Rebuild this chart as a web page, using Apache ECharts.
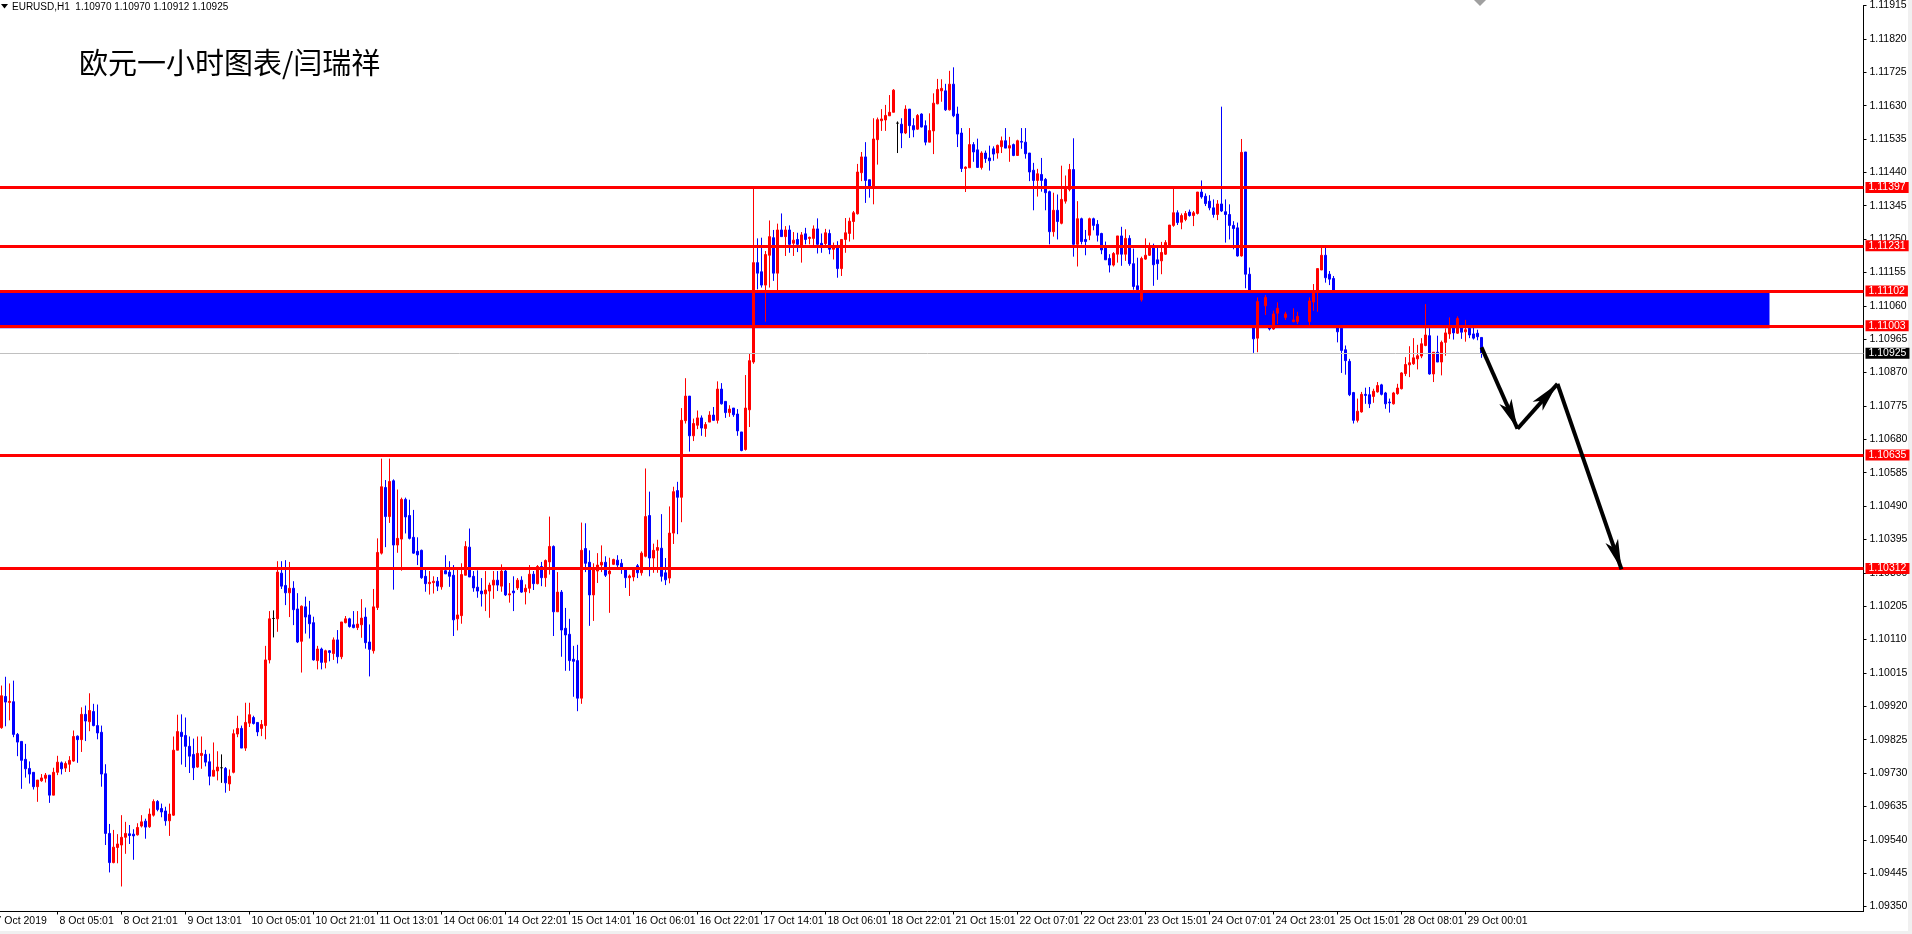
<!DOCTYPE html>
<html><head><meta charset="utf-8">
<script src="https://cdn.jsdelivr.net/npm/echarts@6/dist/echarts.min.js"></script>
<style>html,body{margin:0;padding:0;background:#fff;overflow:hidden;width:1912px;height:934px;position:relative}
#c{position:absolute;left:-10px;top:0;width:1922px;height:934px}</style>
</head><body><div id="c"></div>
<script>
// [open, close, low, high] per hourly bar
const barsA = [
[1.09859,1.09950,1.09856,1.09979],[1.09948,1.09932,1.09863,1.10004],[1.09931,1.09934,1.09880,1.09985],[1.09933,1.09840,1.09832,1.09993],
[1.09840,1.09818,1.09778,1.09844],[1.09820,1.09766,1.09685,1.09820],[1.09769,1.09742,1.09717,1.09813],[1.09743,1.09727,1.09700,1.09763],
[1.09732,1.09691,1.09683,1.09732],[1.09691,1.09710,1.09648,1.09710],[1.09708,1.09716,1.09705,1.09727],[1.09715,1.09724,1.09703,1.09730],
[1.09724,1.09667,1.09645,1.09724],[1.09667,1.09732,1.09667,1.09745],[1.09732,1.09761,1.09724,1.09779],[1.09759,1.09742,1.09726,1.09763],
[1.09744,1.09757,1.09733,1.09763],[1.09755,1.09766,1.09733,1.09778],[1.09764,1.09834,1.09762,1.09851],[1.09835,1.09825,1.09759,1.09837],
[1.09825,1.09897,1.09790,1.09917],[1.09897,1.09878,1.09821,1.09922],[1.09876,1.09908,1.09849,1.09957],[1.09905,1.09865,1.09863,1.09927],
[1.09865,1.09844,1.09826,1.09925],[1.09846,1.09727,1.09691,1.09865],[1.09728,1.09558,1.09525,1.09755],[1.09558,1.09475,1.09447,1.09585],
[1.09475,1.09519,1.09473,1.09568],[1.09518,1.09528,1.09473,1.09556],[1.09525,1.09547,1.09407,1.09610],[1.09547,1.09558,1.09500,1.09591],
[1.09557,1.09552,1.09528,1.09582],[1.09556,1.09551,1.09483,1.09570],[1.09554,1.09575,1.09552,1.09587],[1.09579,1.09591,1.09575,1.09610],
[1.09593,1.09576,1.09543,1.09600],[1.09577,1.09613,1.09574,1.09629],[1.09610,1.09649,1.09606,1.09655],[1.09649,1.09626,1.09621,1.09653],
[1.09629,1.09619,1.09604,1.09643],[1.09622,1.09594,1.09580,1.09634],[1.09594,1.09613,1.09551,1.09643],[1.09610,1.09795,1.09608,1.09834],
[1.09795,1.09848,1.09795,1.09896],[1.09846,1.09834,1.09754,1.09897],[1.09837,1.09806,1.09747,1.09888],[1.09806,1.09778,1.09730,1.09834],
[1.09783,1.09745,1.09710,1.09828],[1.09747,1.09786,1.09745,1.09834],[1.09780,1.09786,1.09742,1.09834],[1.09783,1.09761,1.09749,1.09796],
[1.09762,1.09721,1.09695,1.09785]];
const barsB = [
[1.09721,1.09738,1.09721,1.09817],[1.09736,1.09747,1.09709,1.09792],[1.09745,1.09745,1.09702,1.09783],[1.09743,1.09702,1.09674,1.09747],
[1.09699,1.09721,1.09679,1.09740],[1.09732,1.09842,1.09729,1.09854],[1.09841,1.09857,1.09832,1.09893],[1.09857,1.09801,1.09801,1.09865],
[1.09801,1.09874,1.09793,1.09930],[1.09872,1.09896,1.09861,1.09930],[1.09888,1.09871,1.09868,1.09893],[1.09874,1.09847,1.09835,1.09874],
[1.09857,1.09868,1.09835,1.09881],[1.09865,1.10052,1.09826,1.10092],[1.10052,1.10169,1.10042,1.10191],[1.10170,1.10170,1.10116,1.10193],
[1.10169,1.10302,1.10132,1.10333],[1.10299,1.10262,1.10254,1.10333],[1.10264,1.10243,1.10208,1.10336],[1.10243,1.10256,1.10174,1.10331],
[1.10256,1.10195,1.10151,1.10276],[1.10197,1.10103,1.10100,1.10242],[1.10105,1.10205,1.10016,1.10207],[1.10203,1.10174,1.10127,1.10232],
[1.10180,1.10155,1.10113,1.10220],[1.10158,1.10052,1.10050,1.10175],[1.10050,1.10083,1.10025,1.10092],[1.10083,1.10045,1.10025,1.10087],
[1.10045,1.10078,1.10028,1.10081],[1.10078,1.10073,1.10048,1.10080],[1.10070,1.10109,1.10052,1.10116],[1.10109,1.10061,1.10042,1.10137],
[1.10061,1.10160,1.10054,1.10160],[1.10158,1.10169,1.10156,1.10177],[1.10169,1.10147,1.10144,1.10172],[1.10152,1.10144,1.10142,1.10191],
[1.10144,1.10154,1.10137,1.10191],[1.10152,1.10171,1.10115,1.10225],[1.10174,1.10101,1.10084,1.10201],[1.10103,1.10082,1.10005,1.10153],
[1.10078,1.10203,1.10070,1.10254],[1.10201,1.10358,1.10194,1.10398],[1.10356,1.10545,1.10352,1.10625],[1.10543,1.10460,1.10373,1.10564],
[1.10460,1.10560,1.10442,1.10625],[1.10562,1.10379,1.10252,1.10566],[1.10379,1.10398,1.10357,1.10537],[1.10396,1.10509,1.10306,1.10514],
[1.10509,1.10459,1.10412,1.10514],[1.10463,1.10398,1.10395,1.10508],[1.10401,1.10356,1.10354,1.10479],[1.10361,1.10351,1.10322,1.10401],
[1.10364,1.10286,1.10283,1.10366]];
const barsC = [
[1.10290,1.10269,1.10246,1.10314],[1.10269,1.10273,1.10238,1.10305],[1.10272,1.10276,1.10241,1.10290],[1.10276,1.10262,1.10248,1.10288],
[1.10260,1.10307,1.10252,1.10309],[1.10306,1.10297,1.10297,1.10350],[1.10302,1.10290,1.10260,1.10333],[1.10293,1.10166,1.10120,1.10322],
[1.10169,1.10180,1.10136,1.10312],[1.10178,1.10295,1.10155,1.10327],[1.10293,1.10375,1.10293,1.10390],[1.10373,1.10288,1.10288,1.10426],
[1.10290,1.10257,1.10246,1.10305],[1.10259,1.10248,1.10229,1.10307],[1.10248,1.10240,1.10204,1.10285],[1.10240,1.10251,1.10191,1.10305],
[1.10248,1.10265,1.10172,1.10272],[1.10265,1.10279,1.10226,1.10305],[1.10279,1.10265,1.10248,1.10305],[1.10262,1.10305,1.10246,1.10324],
[1.10305,1.10237,1.10234,1.10309],[1.10237,1.10240,1.10215,1.10271],[1.10248,1.10243,1.10191,1.10290],[1.10257,1.10279,1.10251,1.10285],
[1.10279,1.10245,1.10243,1.10290],[1.10246,1.10256,1.10210,1.10267],[1.10256,1.10296,1.10242,1.10322],[1.10296,1.10269,1.10251,1.10305],
[1.10269,1.10318,1.10267,1.10322],[1.10318,1.10286,1.10262,1.10331],[1.10286,1.10335,1.10260,1.10338],[1.10331,1.10375,1.10295,1.10460],
[1.10375,1.10189,1.10120,1.10378],[1.10189,1.10245,1.10189,1.10302],[1.10245,1.10137,1.10061,1.10251],[1.10142,1.10123,1.10021,1.10200],
[1.10125,1.10050,1.10021,1.10169],[1.10054,1.10048,1.09947,1.10092],[1.10050,1.09943,1.09906,1.10095],[1.09943,1.10364,1.09927,1.10443],
[1.10369,1.10327,1.10302,1.10441],[1.10330,1.10237,1.10149,1.10364],[1.10237,1.10313,1.10163,1.10327],[1.10305,1.10322,1.10271,1.10356],
[1.10322,1.10330,1.10302,1.10378],[1.10330,1.10293,1.10288,1.10347],[1.10297,1.10305,1.10186,1.10343],[1.10324,1.10338,1.10322,1.10340],
[1.10336,1.10322,1.10316,1.10350],[1.10327,1.10314,1.10297,1.10339],[1.10314,1.10286,1.10257,1.10316],[1.10286,1.10291,1.10234,1.10295],
[1.10288,1.10313,1.10276,1.10316]];
const barsD = [
[1.10320,1.10300,1.10285,1.10325],[1.10300,1.10356,1.10292,1.10361],[1.10347,1.10460,1.10344,1.10597],[1.10463,1.10342,1.10290,1.10531],
[1.10342,1.10364,1.10300,1.10383],[1.10364,1.10372,1.10300,1.10394],[1.10370,1.10290,1.10275,1.10467],[1.10300,1.10280,1.10265,1.10342],
[1.10285,1.10413,1.10270,1.10489],[1.10413,1.10531,1.10382,1.10545],[1.10534,1.10515,1.10410,1.10559],[1.10515,1.10734,1.10444,1.10769],
[1.10733,1.10803,1.10725,1.10854],[1.10803,1.10690,1.10645,1.10803],[1.10690,1.10725,1.10675,1.10739],[1.10720,1.10741,1.10709,1.10762],
[1.10741,1.10712,1.10690,1.10748],[1.10711,1.10722,1.10687,1.10729],[1.10729,1.10749,1.10729,1.10760],[1.10749,1.10734,1.10734,1.10772],
[1.10734,1.10823,1.10725,1.10845],[1.10823,1.10781,1.10779,1.10840],[1.10788,1.10756,1.10741,1.10788],[1.10756,1.10766,1.10744,1.10777],
[1.10769,1.10750,1.10744,1.10769],[1.10752,1.10704,1.10690,1.10766],[1.10701,1.10648,1.10646,1.10701],[1.10651,1.10769,1.10648,1.10863],
[1.10764,1.10904,1.10715,1.10925],[1.10900,1.11183,1.10895,1.11396],[1.11183,1.11153,1.11107,1.11252],[1.11157,1.11119,1.11112,1.11254],
[1.11119,1.11206,1.11015,1.11216],[1.11204,1.11257,1.11112,1.11303],[1.11254,1.11153,1.11131,1.11276],[1.11153,1.11276,1.11105,1.11294],
[1.11276,1.11257,1.11257,1.11323],[1.11257,1.11276,1.11202,1.11287],[1.11276,1.11235,1.11211,1.11289],[1.11238,1.11247,1.11202,1.11270],
[1.11249,1.11235,1.11213,1.11268],[1.11232,1.11262,1.11183,1.11270],[1.11265,1.11249,1.11235,1.11282],[1.11252,1.11255,1.11235,1.11257],
[1.11252,1.11279,1.11232,1.11289],[1.11279,1.11235,1.11209,1.11309],[1.11238,1.11232,1.11211,1.11266],[1.11237,1.11268,1.11227,1.11279],
[1.11266,1.11221,1.11207,1.11277],[1.11221,1.11228,1.11192,1.11240],[1.11228,1.11166,1.11140,1.11244],[1.11166,1.11249,1.11145,1.11249],
[1.11249,1.11268,1.11211,1.11310]];
const barsE = [
[1.11266,1.11301,1.11243,1.11311],[1.11300,1.11325,1.11249,1.11330],[1.11322,1.11441,1.11320,1.11464],[1.11439,1.11484,1.11415,1.11498],
[1.11484,1.11417,1.11353,1.11526],[1.11419,1.11401,1.11368,1.11419],[1.11401,1.11535,1.11349,1.11594],[1.11533,1.11590,1.11462,1.11596],
[1.11587,1.11592,1.11558,1.11620],[1.11589,1.11602,1.11558,1.11632],[1.11601,1.11611,1.11601,1.11660],[1.11611,1.11674,1.11611,1.11677],
[1.11580,1.11580,1.11495,1.11585],[1.11577,1.11552,1.11509,1.11594],[1.11552,1.11620,1.11549,1.11631],[1.11620,1.11573,1.11538,1.11620],
[1.11573,1.11561,1.11540,1.11594],[1.11563,1.11602,1.11561,1.11606],[1.11606,1.11569,1.11568,1.11608],[1.11573,1.11526,1.11517,1.11588],
[1.11526,1.11559,1.11526,1.11608],[1.11558,1.11637,1.11492,1.11665],[1.11635,1.11676,1.11634,1.11706],[1.11672,1.11679,1.11641,1.11705],
[1.11672,1.11618,1.11615,1.11692],[1.11618,1.11691,1.11616,1.11729],[1.11691,1.11601,1.11597,1.11739],[1.11606,1.11549,1.11512,1.11627],
[1.11552,1.11451,1.11441,1.11566],[1.11451,1.11455,1.11384,1.11457],[1.11453,1.11519,1.11453,1.11566],[1.11519,1.11498,1.11470,1.11526],
[1.11504,1.11454,1.11453,1.11536],[1.11454,1.11495,1.11448,1.11500],[1.11495,1.11479,1.11467,1.11502],[1.11481,1.11473,1.11445,1.11516],
[1.11507,1.11492,1.11473,1.11514],[1.11495,1.11517,1.11479,1.11519],[1.11513,1.11530,1.11495,1.11542],[1.11530,1.11509,1.11509,1.11566],
[1.11509,1.11516,1.11470,1.11541],[1.11519,1.11488,1.11486,1.11522],[1.11488,1.11530,1.11488,1.11533],[1.11528,1.11526,1.11507,1.11566],
[1.11526,1.11493,1.11479,1.11566],[1.11495,1.11441,1.11415,1.11495],[1.11446,1.11417,1.11332,1.11467],[1.11417,1.11436,1.11371,1.11450],
[1.11434,1.11417,1.11385,1.11481],[1.11420,1.11382,1.11332,1.11424],[1.11385,1.11271,1.11235,1.11388],[1.11271,1.11332,1.11257,1.11382],
[1.11332,1.11300,1.11249,1.11377]];
const barsF = [
[1.11295,1.11363,1.11292,1.11459],[1.11358,1.11393,1.11351,1.11431],[1.11391,1.11448,1.11386,1.11464],[1.11448,1.11235,1.11200,1.11537],
[1.11235,1.11308,1.11172,1.11358],[1.11308,1.11243,1.11235,1.11311],[1.11249,1.11243,1.11204,1.11276],[1.11261,1.11308,1.11247,1.11311],
[1.11308,1.11289,1.11275,1.11311],[1.11292,1.11261,1.11243,1.11304],[1.11266,1.11219,1.11207,1.11268],[1.11225,1.11191,1.11191,1.11243],
[1.11195,1.11176,1.11155,1.11207],[1.11176,1.11209,1.11172,1.11213],[1.11207,1.11259,1.11183,1.11259],[1.11259,1.11207,1.11174,1.11285],
[1.11207,1.11252,1.11188,1.11278],[1.11252,1.11180,1.11174,1.11261],[1.11180,1.11115,1.11106,1.11223],[1.11117,1.11106,1.11100,1.11197],
[1.11077,1.11195,1.11072,1.11200],[1.11193,1.11204,1.11191,1.11252],[1.11204,1.11230,1.11202,1.11240],[1.11229,1.11177,1.11117,1.11237],
[1.11191,1.11180,1.11134,1.11230],[1.11188,1.11212,1.11150,1.11242],[1.11207,1.11240,1.11205,1.11247],[1.11232,1.11290,1.11230,1.11290],
[1.11289,1.11325,1.11285,1.11393],[1.11325,1.11297,1.11290,1.11332],[1.11298,1.11317,1.11278,1.11323],[1.11306,1.11323,1.11301,1.11330],
[1.11327,1.11317,1.11314,1.11334],[1.11317,1.11325,1.11287,1.11330],[1.11323,1.11384,1.11320,1.11384],[1.11384,1.11370,1.11365,1.11417],
[1.11372,1.11351,1.11344,1.11380],[1.11358,1.11339,1.11332,1.11375],[1.11339,1.11320,1.11311,1.11363],[1.11320,1.11350,1.11304,1.11361],
[1.11350,1.11330,1.11327,1.11627],[1.11328,1.11320,1.11240,1.11363],[1.11320,1.11289,1.11249,1.11349],[1.11289,1.11280,1.11221,1.11301],
[1.11282,1.11202,1.11200,1.11297],[1.11202,1.11497,1.11200,1.11535],[1.11498,1.11150,1.11110,1.11498],[1.11150,1.11050,1.11030,1.11169],
[1.11050,1.10966,1.10926,1.11060],[1.10968,1.11072,1.10928,1.11084],[1.11070,1.11040,1.11020,1.11100],[1.11060,1.11084,1.11034,1.11091],
[1.11080,1.10994,1.10990,1.11085]];
const barsG = [
[1.10994,1.11037,1.10992,1.11046],[1.11039,1.11053,1.11008,1.11070],[1.11050,1.11030,1.11015,1.11060],[1.11027,1.11037,1.11020,1.11043],
[1.11035,1.11015,1.11005,1.11045],[1.11015,1.11020,1.11013,1.11053],[1.11015,1.11030,1.11008,1.11043],[1.11030,1.11015,1.11005,1.11040],
[1.11015,1.11008,1.11003,1.11030],[1.11015,1.11074,1.11005,1.11084],[1.11071,1.11100,1.11046,1.11122],[1.11103,1.11166,1.11043,1.11166],
[1.11162,1.11204,1.11162,1.11228],[1.11204,1.11140,1.11126,1.11228],[1.11150,1.11136,1.11119,1.11159],[1.11138,1.11060,1.11050,1.11145],
[1.11060,1.10986,1.10956,1.11065],[1.10996,1.10933,1.10869,1.10996],[1.10935,1.10904,1.10864,1.10947],[1.10902,1.10807,1.10803,1.10909],
[1.10813,1.10734,1.10725,1.10815],[1.10734,1.10760,1.10728,1.10796],[1.10758,1.10808,1.10756,1.10815],[1.10808,1.10805,1.10781,1.10827],
[1.10807,1.10781,1.10769,1.10829],[1.10802,1.10817,1.10784,1.10824],[1.10815,1.10833,1.10813,1.10843],[1.10835,1.10808,1.10805,1.10838],
[1.10812,1.10781,1.10767,1.10815],[1.10786,1.10784,1.10756,1.10796],[1.10781,1.10812,1.10779,1.10815],[1.10810,1.10826,1.10807,1.10838],
[1.10824,1.10869,1.10822,1.10871],[1.10867,1.10893,1.10860,1.10914],[1.10892,1.10898,1.10857,1.10945],[1.10895,1.10912,1.10892,1.10968],
[1.10909,1.10918,1.10879,1.10949],[1.10917,1.10952,1.10911,1.10968],[1.10947,1.10977,1.10945,1.11065],[1.10975,1.10866,1.10864,1.10996],
[1.10866,1.10928,1.10843,1.10928],[1.10928,1.10900,1.10900,1.10975],[1.10900,1.10956,1.10862,1.10961],[1.10956,1.10983,1.10918,1.10996],
[1.10980,1.10997,1.10966,1.11027],[1.10999,1.10983,1.10964,1.11005],[1.10982,1.11024,1.10980,1.11030],[1.10997,1.10985,1.10966,1.11002],
[1.10986,1.10992,1.10958,1.11020],[1.10996,1.10977,1.10968,1.10999],[1.10980,1.10968,1.10964,1.11005],[1.10982,1.10972,1.10962,1.10992],
[1.10970,1.10925,1.10912,1.10970]];

// trading sessions: [day, first hour, last hour]
const sessions = [['7 Oct',15,23],['8 Oct',0,23],['9 Oct',0,23],['10 Oct',0,23],['11 Oct',0,22],
  ['14 Oct',0,23],['15 Oct',0,23],['16 Oct',0,23],['17 Oct',0,23],['18 Oct',0,22],
  ['21 Oct',0,23],['22 Oct',0,23],['23 Oct',0,23],['24 Oct',0,23],['25 Oct',0,22],
  ['28 Oct',0,23],['29 Oct',0,4]];
const xTickLabels = ['7 Oct 2019','8 Oct 05:01','8 Oct 21:01','9 Oct 13:01','10 Oct 05:01','10 Oct 21:01',
  '11 Oct 13:01','14 Oct 06:01','14 Oct 22:01','15 Oct 14:01','16 Oct 06:01','16 Oct 22:01','17 Oct 14:01',
  '18 Oct 06:01','18 Oct 22:01','21 Oct 15:01','22 Oct 07:01','22 Oct 23:01','23 Oct 15:01','24 Oct 07:01',
  '24 Oct 23:01','25 Oct 15:01','28 Oct 08:01','29 Oct 00:01'];
const levelLines = [1.11397, 1.11231, 1.11102, 1.11003, 1.10635, 1.10312];
const lastPrice = 1.10925;
const zone = [1.11100, 1.10996];      // blue zone, price top/bottom
const zoneEndBar = 442;               // bar index where the zone ends
const arrowPath = [[370, 1.10942], [379, 1.10710], [389, 1.10838], [405, 1.10310]]; // [bar index, price]
const yTicks = {min: 1.09350, max: 1.11915, step: 0.00095};
const header = 'EURUSD,H1  1.10970 1.10970 1.10912 1.10925';
const title = '欧元一小时图表/闫瑞祥';

const OX = 10;          // chart container is shifted 10px left of the page
const LEAD = 2, TOTAL = 468;
const bars = [].concat(barsA, barsB, barsC, barsD, barsE, barsF, barsG);
const cats = ['7 Oct 13:00', '7 Oct 14:00'];
sessions.forEach(s => { for (let h = s[1]; h <= s[2]; h++) cats.push(s[0] + ' ' + String(h).padStart(2,'0') + ':00'); });
while (cats.length < TOTAL) cats.push('f' + cats.length);
const candleData = [];
for (let i = 0; i < LEAD; i++) candleData.push('-');
bars.forEach(b => candleData.push(b));

const showTick = (idx) => idx % 16 === 0 && idx / 16 < xTickLabels.length;
const FONT = 'Liberation Sans';

const lineData = levelLines.map(v => ({yAxis: v}));
lineData.push({yAxis: lastPrice, lineStyle: {color: '#c0c0c0', width: 1},
  label: {backgroundColor: '#000000'}});

const arrowData = [];
for (let i = 0; i < arrowPath.length - 1; i++) {
  arrowData.push([{coord: [arrowPath[i][0] + LEAD, arrowPath[i][1]]},
                  {coord: [arrowPath[i+1][0] + LEAD, arrowPath[i+1][1]]}]);
}

const chart = echarts.init(document.getElementById('c'), null, {renderer: 'canvas'});
chart.setOption({
  animation: false,
  backgroundColor: '#ffffff',
  grid: {left: 1.5, right: 48.5, top: 1.5, height: 905, containLabel: false},
  xAxis: {
    type: 'category', data: cats, boundaryGap: true, offset: 5,
    axisLine: {show: true, lineStyle: {color: '#000', width: 1}},
    axisTick: {show: true, alignWithLabel: true, interval: showTick, length: 3, lineStyle: {color: '#000'}},
    axisLabel: {interval: showTick,
      formatter: (v, idx) => showTick(idx) ? xTickLabels[idx / 16] : '',
      align: 'left', padding: [0, 0, 0, 2], margin: 4, fontSize: 10.5, color: '#000', fontFamily: FONT},
    splitLine: {show: false}
  },
  yAxis: {
    type: 'value', position: 'right', scale: true,
    min: yTicks.min, max: yTicks.max, interval: yTicks.step,
    axisLine: {show: true, lineStyle: {color: '#000', width: 1}},
    axisTick: {show: true, length: 3, lineStyle: {color: '#000'}},
    axisLabel: {formatter: v => v.toFixed(5), margin: 6, fontSize: 10.5, color: '#000', fontFamily: FONT},
    splitLine: {show: false}
  },
  graphic: [
    {type: 'polygon', shape: {points: [[OX + 1, 4], [OX + 8, 4], [OX + 4.5, 8.5]]}, style: {fill: '#000'}},
    {type: 'text', x: OX + 12, y: 2, style: {text: header, font: '10px "Liberation Sans"', fill: '#000'}},
    {type: 'text', x: OX + 79, y: 48, style: {text: title, font: '29px "Noto Sans CJK SC"', fill: '#000'}},
    {type: 'polygon', shape: {points: [[OX + 1474, 0], [OX + 1486, 0], [OX + 1480, 6]]}, style: {fill: '#a0a0a0'}},
    {type: 'line', shape: {x1: OX + 1863.5, y1: 906, x2: OX + 1863.5, y2: 912}, style: {stroke: '#000', lineWidth: 1}},
    {type: 'rect', shape: {x: 0, y: 931, width: 1922, height: 3}, style: {fill: '#f0f0f0'}},
    {type: 'rect', shape: {x: OX + 1908, y: 0, width: 4, height: 934}, style: {fill: '#f0f0f0'}}
  ],
  series: [
    {
      type: 'candlestick', name: 'EURUSD', data: candleData, barWidth: 2, z: 2,
      itemStyle: {color: '#ff0000', color0: '#0000ff', borderColor: '#ff0000', borderColor0: '#0000ff',
        borderColorDoji: '#000000', borderWidth: 1},
      markArea: {silent: true, z: 1,
        itemStyle: {color: '#0000ff', opacity: 1, borderWidth: 0},
        data: [[{xAxis: 0, yAxis: zone[0]}, {xAxis: zoneEndBar + LEAD, yAxis: zone[1]}]]},
      markLine: {silent: true, symbol: ['none', 'none'], z: 5, precision: 5,
        lineStyle: {color: '#ff0000', width: 3, type: 'solid'},
        label: {show: true, position: 'end', distance: 2, formatter: p => Number(p.value).toFixed(5),
          backgroundColor: '#ff0000', color: '#ffffff', fontSize: 10.5, lineHeight: 10,
          padding: [1, 3, 0, 3], fontFamily: FONT},
        data: lineData}
    },
    {
      type: 'line', name: 'arrows', data: [], z: 6,
      markLine: {silent: true, symbol: ['none', 'arrow'], symbolSize: [10, 30], z: 6, precision: 5,
        lineStyle: {color: '#000000', width: 4, type: 'solid'},
        label: {show: false},
        data: arrowData}
    }
  ]
});
</script></body></html>
